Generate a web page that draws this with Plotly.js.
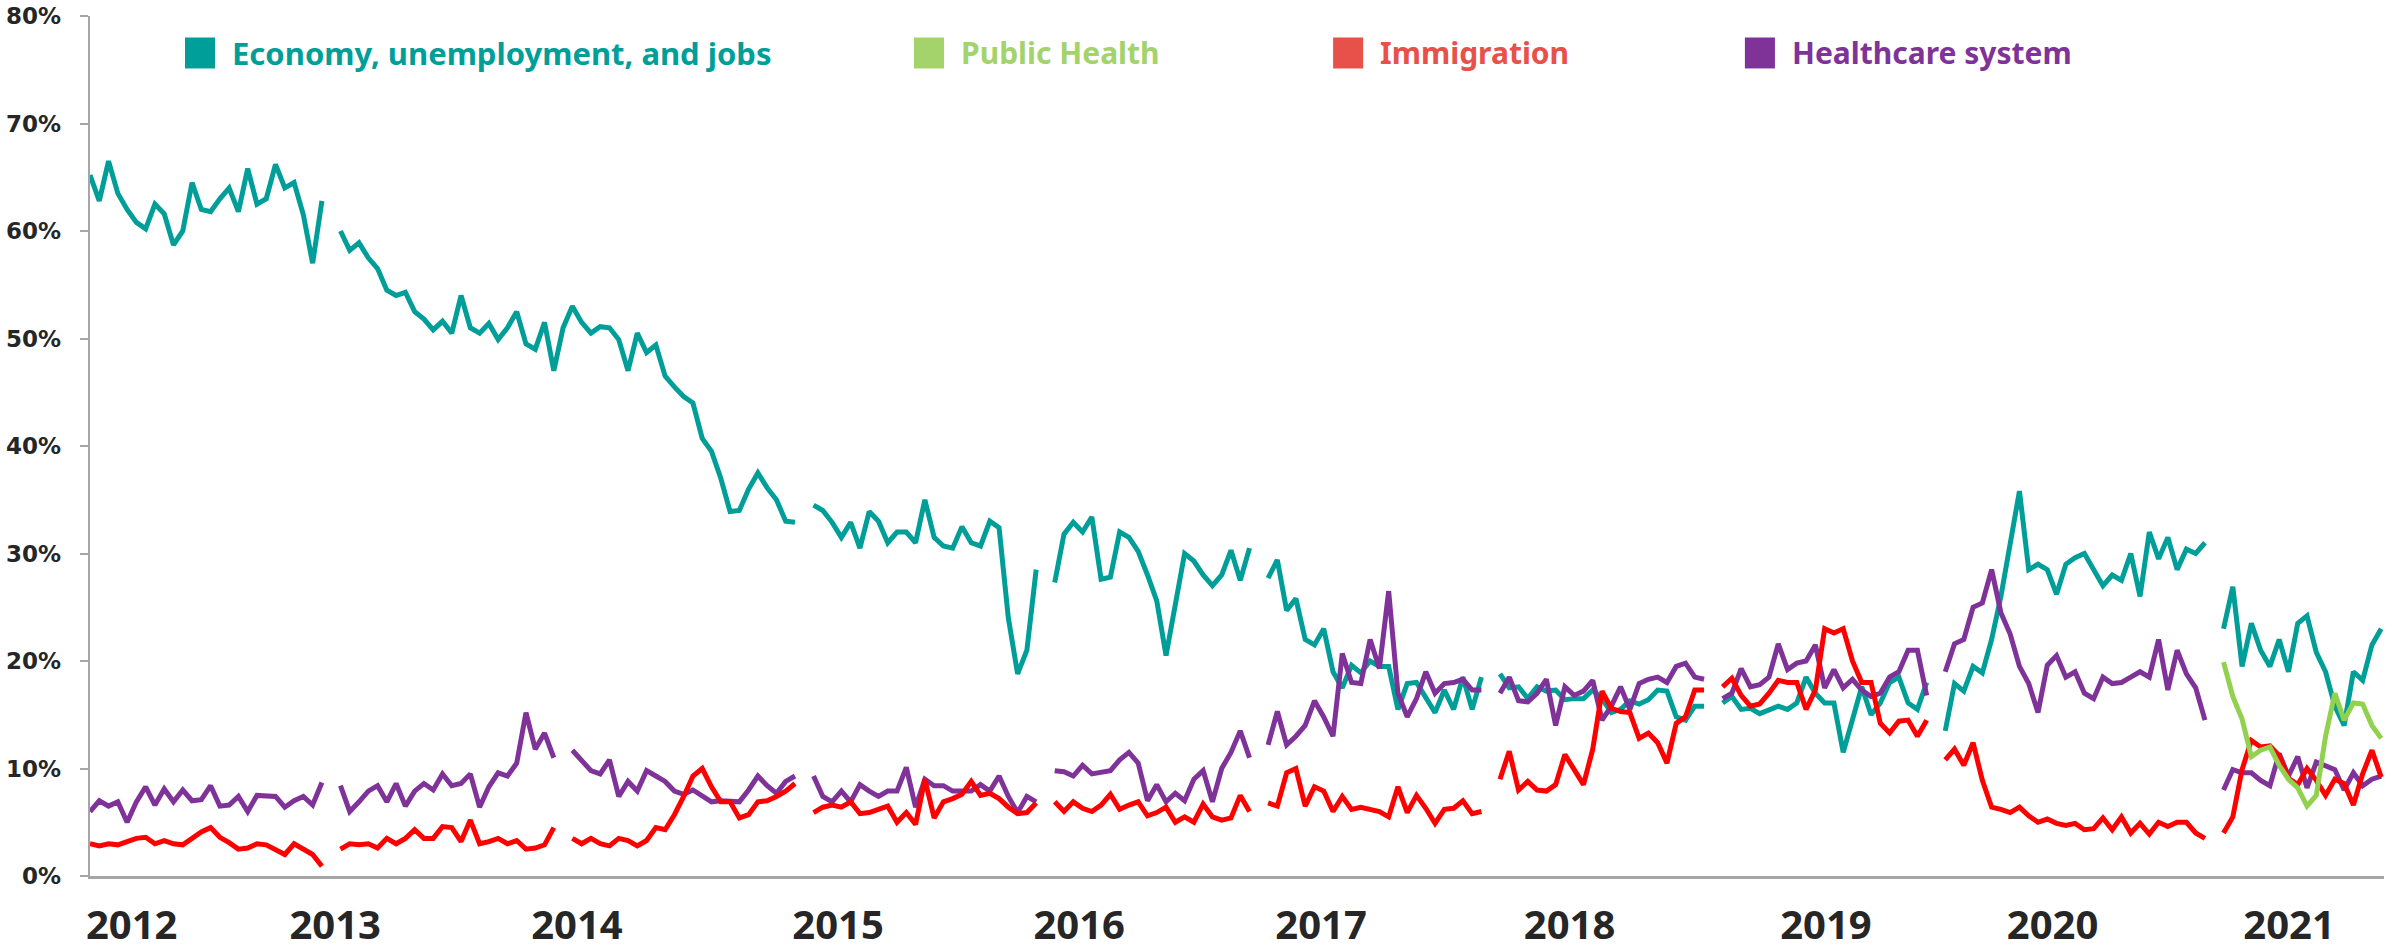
<!DOCTYPE html>
<html>
<head>
<meta charset="utf-8">
<script src="https://cdn.plot.ly/plotly-3.0.1.min.js"></script>
<style>html,body{margin:0;padding:0;background:#fff}#chart{width:2395px;height:951px}</style>
</head>
<body>
<div id="chart"></div>
<script>
// Biweekly observations starting 2012-01-01
const startDate = '2012-01-01';
const stepDays = 14;

const seriesNames = ['Economy, unemployment, and jobs', 'Public Health', 'Immigration', 'Healthcare system'];

const economy = [
  65.2, 62.8, 66.5, 63.5, 62.0, 60.8, 60.2, 62.5, 61.6, 58.7,
  60.0, 64.5, 62.0, 61.8, 63.0, 64.0, 61.8, 65.8, 62.5, 63.0,
  66.2, 64.0, 64.5, 61.5, 57.0, 62.8, null, 60.0, 58.2, 58.9,
  57.5, 56.5, 54.5, 54.0, 54.3, 52.5, 51.8, 50.8, 51.6, 50.5,
  54.0, 51.0, 50.5, 51.4, 49.9, 51.0, 52.5, 49.5, 49.0, 51.5,
  47.0, 51.0, 53.0, 51.5, 50.5, 51.1, 51.0, 49.9, 47.0, 50.5,
  48.7, 49.4, 46.5, 45.5, 44.6, 44.0, 40.7, 39.5, 37.0, 33.9,
  34.0, 36.0, 37.5, 36.1, 35.0, 33.0, 32.9, null, 34.5, 34.0,
  32.9, 31.5, 32.9, 30.5, 33.9, 33.0, 31.0, 32.0, 32.0, 31.0,
  35.0, 31.5, 30.7, 30.5, 32.5, 31.0, 30.7, 33.0, 32.4, 24.0,
  18.8, 21.0, 28.5, null, 27.3, 31.8, 32.9, 32.0, 33.4, 27.6,
  27.8, 32.0, 31.5, 30.2, 28.0, 25.6, 20.5, 25.0, 30.0, 29.3,
  28.0, 27.0, 28.0, 30.3, 27.5, 30.5, null, 27.7, 29.4, 24.7,
  25.8, 22.0, 21.5, 23.0, 19.0, 17.5, 19.6, 18.9, 20.0, 19.5,
  19.5, 15.5, 17.9, 18.0, 16.5, 15.2, 17.3, 15.5, 18.5, 15.5,
  18.5, null, 18.8, 17.5, 17.6, 16.5, 17.6, 17.2, 17.3, 16.4,
  16.5, 16.5, 17.3, 16.5, 15.2, 15.5, 16.3, 16.0, 16.4, 17.3,
  17.2, 14.8, 14.5, 15.8, 15.8, null, 16.1, 16.7, 15.5, 15.6,
  15.1, 15.5, 15.8, 15.5, 16.1, 18.5, 17.0, 16.1, 16.1, 11.5,
  14.5, 17.6, 15.0, 16.1, 18.0, 18.5, 16.1, 15.5, 18.0, null,
  13.5, 17.9, 17.2, 19.5, 18.9, 22.0, 26.0, 31.2, 35.8, 28.5,
  29.0, 28.5, 26.2, 29.0, 29.6, 30.0, 28.5, 27.0, 28.0, 27.5,
  30.0, 26.0, 32.0, 29.5, 31.5, 28.5, 30.4, 30.0, 31.0, null,
  23.0, 26.9, 19.5, 23.5, 21.0, 19.5, 22.0, 19.0, 23.5, 24.2,
  20.8, 19.0, 15.8, 14.0, 19.0, 18.2, 21.5, 23.0
];

const healthcare = [
  6.0, 7.0, 6.5, 6.9, 5.0, 6.9, 8.3, 6.6, 8.1, 6.9,
  8.0, 7.0, 7.1, 8.4, 6.5, 6.6, 7.4, 6.0, 7.5, 7.4,
  7.4, 6.4, 7.0, 7.4, 6.6, 8.7, null, 8.4, 6.0, 6.9,
  7.9, 8.4, 6.9, 8.6, 6.5, 7.9, 8.6, 8.0, 9.5, 8.4,
  8.6, 9.5, 6.4, 8.3, 9.6, 9.3, 10.5, 15.2, 11.8, 13.3,
  11.0, null, 11.7, 10.8, 9.8, 9.5, 10.8, 7.4, 8.8, 7.9,
  9.8, 9.3, 8.8, 7.9, 7.6, 8.0, 7.4, 6.9, 7.0, 6.9,
  6.9, 8.0, 9.3, 8.4, 7.7, 8.8, 9.3, null, 9.3, 7.4,
  6.9, 7.9, 6.9, 8.5, 7.9, 7.4, 7.9, 7.9, 10.1, 6.4,
  9.0, 8.4, 8.4, 7.9, 7.9, 7.9, 8.5, 7.9, 9.3, 7.4,
  5.9, 7.4, 6.9, null, 9.8, 9.7, 9.3, 10.3, 9.5, 9.6,
  9.8, 10.8, 11.5, 10.5, 7.0, 8.5, 6.9, 7.7, 7.0, 9.0,
  9.8, 6.9, 10.0, 11.5, 13.5, 11.0, null, 12.2, 15.3, 12.2,
  13.0, 14.0, 16.3, 14.8, 13.0, 20.7, 18.0, 17.9, 22.0, 19.3,
  26.5, 17.0, 14.8, 16.5, 19.0, 17.0, 17.9, 18.0, 18.3, 17.3,
  17.3, null, 17.0, 18.5, 16.3, 16.2, 17.0, 18.3, 14.0, 17.6,
  16.8, 17.2, 18.2, 14.5, 15.8, 17.6, 15.5, 17.9, 18.3, 18.5,
  18.0, 19.5, 19.8, 18.5, 18.3, null, 16.5, 17.0, 19.3, 17.6,
  17.8, 18.5, 21.6, 19.2, 19.8, 20.0, 21.5, 17.5, 19.2, 17.5,
  18.3, 17.3, 16.7, 17.0, 18.5, 19.0, 21.0, 21.0, 16.8, null,
  19.0, 21.6, 22.0, 25.0, 25.4, 28.5, 24.5, 22.5, 19.5, 17.9,
  15.2, 19.6, 20.5, 18.5, 19.0, 17.0, 16.5, 18.5, 17.9, 18.0,
  18.5, 19.0, 18.5, 22.0, 17.3, 21.0, 18.8, 17.5, 14.5, null,
  8.0, 9.9, 9.6, 9.6, 8.9, 8.4, 11.4, 9.3, 11.1, 8.2,
  10.6, 10.3, 9.9, 8.0, 9.6, 8.4, 9.0, 9.3
];

const immigration = [
  3.0, 2.8, 3.0, 2.9, 3.2, 3.5, 3.6, 3.0, 3.3, 3.0,
  2.9, 3.5, 4.1, 4.5, 3.6, 3.1, 2.5, 2.6, 3.0, 2.9,
  2.4, 2.0, 3.0, 2.5, 2.0, 0.9, null, 2.5, 3.0, 2.9,
  3.0, 2.6, 3.5, 3.0, 3.5, 4.3, 3.5, 3.5, 4.6, 4.5,
  3.2, 5.2, 3.0, 3.2, 3.5, 3.0, 3.3, 2.5, 2.6, 2.9,
  4.5, null, 3.5, 3.0, 3.5, 3.0, 2.8, 3.5, 3.3, 2.8,
  3.3, 4.5, 4.3, 5.7, 7.4, 9.3, 10.0, 8.3, 6.9, 6.9,
  5.4, 5.7, 6.9, 7.0, 7.4, 7.9, 8.6, null, 5.9, 6.4,
  6.6, 6.4, 6.9, 5.8, 5.9, 6.2, 6.5, 5.0, 5.9, 4.8,
  9.0, 5.4, 6.9, 7.2, 7.6, 8.8, 7.5, 7.7, 7.2, 6.4,
  5.8, 5.9, 6.8, null, 6.9, 6.0, 6.9, 6.3, 6.0, 6.6,
  7.6, 6.2, 6.6, 6.9, 5.6, 5.9, 6.4, 5.0, 5.5, 5.0,
  6.7, 5.5, 5.2, 5.4, 7.5, 6.0, null, 6.8, 6.5, 9.6,
  10.0, 6.5, 8.3, 7.9, 6.0, 7.4, 6.2, 6.4, 6.2, 6.0,
  5.5, 8.3, 5.9, 7.5, 6.3, 4.9, 6.2, 6.3, 7.0, 5.8,
  6.0, null, 9.0, 11.6, 8.0, 8.8, 8.0, 7.9, 8.5, 11.3,
  9.9, 8.5, 11.8, 17.2, 15.6, 15.3, 15.2, 12.8, 13.3, 12.4,
  10.5, 14.2, 14.8, 17.3, 17.3, null, 17.6, 18.4, 16.8, 15.8,
  16.0, 17.0, 18.2, 18.0, 18.0, 15.5, 17.3, 23.0, 22.6, 23.0,
  20.0, 18.0, 18.0, 14.2, 13.3, 14.4, 14.5, 13.0, 14.5, null,
  10.8, 11.8, 10.3, 12.4, 8.9, 6.4, 6.2, 5.9, 6.4, 5.6,
  5.0, 5.3, 4.9, 4.7, 4.9, 4.3, 4.4, 5.4, 4.3, 5.5,
  4.0, 4.9, 3.9, 5.0, 4.6, 5.0, 5.0, 4.0, 3.5, null,
  4.0, 5.5, 9.9, 12.6, 12.0, 12.1, 11.2, 9.1, 8.5, 10.0,
  8.9, 7.5, 9.0, 8.6, 6.6, 9.5, 11.7, 9.2
];

// Public Health is only tracked from observation #230 onward
const publicHealthFirstObs = 230;
const publicHealth = [
  19.9, 16.7, 14.6, 11.1, 11.7, 12.0, 10.3, 9.0, 8.2, 6.5,
  7.5, 13.0, 17.0, 14.5, 16.1, 16.0, 14.0, 12.8
];

const yearLabels = ['2012','2013','2014','2015','2016','2017','2018','2019','2020','2021'];
const yearLabelDates = ['2012-03-04','2013-01-05','2014-01-05','2015-02-03','2016-02-02',
                        '2017-02-01','2018-02-11','2019-03-05','2020-02-10','2021-02-01'];
const percentTicks = [0, 10, 20, 30, 40, 50, 60, 70, 80];

const lineColors = ['#009E99', '#92D050', '#FF0000', '#7F3399'];
const legendColors = ['#009E99', '#A4D36C', '#E8504A', '#7F3399'];

// ---------- build ----------
const DAY = 86400000;
const t0 = Date.parse(startDate + 'T00:00:00Z');
const iso = ms => new Date(ms).toISOString().slice(0, 19).replace('T', ' ');
const dates = economy.map((_, i) => iso(t0 + i * stepDays * DAY));

function lineTrace(name, x, y, color) {
  return {type: 'scatter', mode: 'lines', name: name, x: x, y: y,
          connectgaps: false, showlegend: false,
          line: {color: color, width: 5, shape: 'linear'},
          hoverinfo: 'x+y+name'};
}

const data = [
  lineTrace(seriesNames[0], dates, economy, lineColors[0]),
  lineTrace(seriesNames[3], dates, healthcare, lineColors[3]),
  lineTrace(seriesNames[2], dates, immigration, lineColors[2]),
  lineTrace(seriesNames[1], dates.slice(publicHealthFirstObs), publicHealth, lineColors[1])
];

// Legend (squares + coloured labels) along the top of the plot
const legendX = [0.0414, 0.3592, 0.5419, 0.7214];
const legendSq = 0.0131;
const shapes = [];
const annotations = [];
seriesNames.forEach((nm, k) => {
  shapes.push({type: 'rect', xref: 'paper', yref: 'paper',
    x0: legendX[k], x1: legendX[k] + legendSq, y0: 0.939, y1: 0.975,
    fillcolor: legendColors[k], line: {width: 0}});
  annotations.push({xref: 'paper', yref: 'paper', x: legendX[k] + legendSq + 0.0065, y: 0.957,
    xanchor: 'left', yanchor: 'middle', showarrow: false, text: nm,
    font: {family: 'Noto Sans, sans-serif', size: k === 0 ? 31 : 30, weight: 'bold', color: legendColors[k]}});
});
// Percent axis labels, placed on the y scale just left of the tick marks
percentTicks.forEach(v => {
  annotations.push({xref: 'paper', yref: 'y', x: -0.0118, y: v,
    xanchor: 'right', yanchor: 'middle', showarrow: false, text: v + '%',
    font: {family: 'DejaVu Sans, sans-serif', size: 23, weight: 'bold', color: '#262626'}});
});

const layout = {
  width: 2395, height: 951,
  margin: {l: 90, r: 11, t: 16, b: 75, pad: 0},
  paper_bgcolor: '#ffffff', plot_bgcolor: '#ffffff',
  showlegend: false,
  xaxis: {
    type: 'date',
    range: [iso(t0), iso(t0 + 247.3 * stepDays * DAY)],
    tickmode: 'array', tickvals: yearLabelDates, ticktext: yearLabels,
    ticks: '', showgrid: false, zeroline: false,
    showline: true, linecolor: '#a6a6a6', linewidth: 2.5,
    ticklabelstandoff: 12,
    tickfont: {family: 'Noto Sans, sans-serif', size: 40, weight: 'bold', color: '#262626'}
  },
  yaxis: {
    range: [0, 80], tickmode: 'array', tickvals: percentTicks,
    showticklabels: false,
    ticks: 'outside', ticklen: 8, tickwidth: 2, tickcolor: '#a6a6a6',
    showline: true, linecolor: '#a6a6a6', linewidth: 2.5,
    showgrid: false, zeroline: false
  },
  shapes: shapes,
  annotations: annotations
};

Plotly.newPlot('chart', data, layout, {displayModeBar: false, staticPlot: true});
</script>
</body>
</html>
